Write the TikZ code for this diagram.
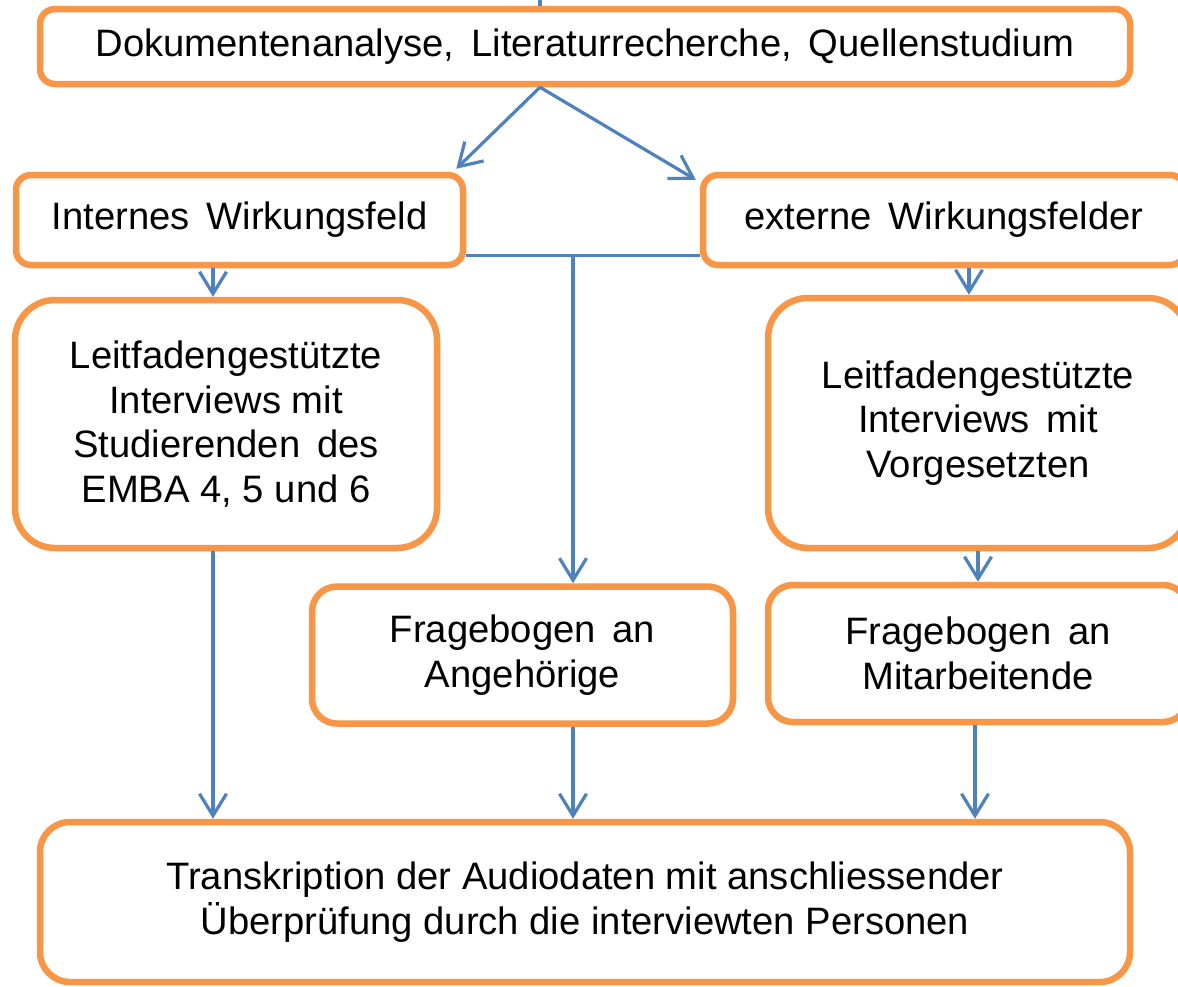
\documentclass[tikz,border=0pt]{standalone}
\usepackage{fontspec}
\setmainfont{Liberation Sans}
\usetikzlibrary{arrows.meta,calc}
\definecolor{boxorange}{HTML}{F79646}
\definecolor{lineblue}{HTML}{4F81BD}
\tikzset{
  box/.style={draw=boxorange, line width=6.5pt, fill=white, align=center, inner sep=0pt,
    font=\fontsize{38.2}{44.5}\selectfont},
  conn/.style={draw=lineblue, line width=3.2pt},
  arr/.style={conn, -{Straight Barb[length=22pt,width=27pt]}}
}
\begin{document}
\begin{tikzpicture}[x=1pt,y=-1pt]
\clip (0,0) rectangle (1178,986);
\fill[white] (0,0) rectangle (1178,986);
% boxes
\node[box, minimum width=1090pt, minimum height=75pt, rounded corners=15pt] (top) at (585,46.5)
  {Dokumentenanalyse,\, Literaturrecherche,\, Quellenstudium};
\node[box, minimum width=447pt, minimum height=90pt, rounded corners=15pt] (intern) at (239.5,220)
  {Internes\, Wirkungsfeld};
\node[box, minimum width=482pt, minimum height=90pt, rounded corners=15pt] (extern) at (944,220)
  {externe\, Wirkungsfelder};
\node[box, minimum width=422pt, minimum height=248pt, rounded corners=40pt] (lleft) at (226,424)
  {Leitfadengestützte\\Interviews mit\\Studierenden\, des\\EMBA 4, 5 und 6};
\node[box, minimum width=420pt, minimum height=250pt, rounded corners=40pt] (lright) at (978,423)
  {Leitfadengestützte\\Interviews\, mit\\Vorgesetzten};
\node[box, minimum width=421pt, minimum height=137pt, rounded corners=25pt] (fang) at (522.5,655)
  {Fragebogen\, an\\Angehörige};
\node[box, minimum width=420pt, minimum height=137pt, rounded corners=25pt] (fmit) at (978,653.5)
  {Fragebogen\, an\\Mitarbeitende};
\node[box, minimum width=1090pt, minimum height=160pt, rounded corners=30pt] (trans) at (585,902)
  {Transkription der Audiodaten mit anschliessender\\Überprüfung durch die interviewten Personen};
% helper coordinates
\coordinate (tk) at (540,-5);
\coordinate (xA) at (213,0);
\coordinate (xB) at (573,0);
\coordinate (xC) at (969,0);
\coordinate (xD) at (978,0);
\coordinate (xE) at (975,0);
\coordinate (apex) at (top.south -| tk);
% connectors
\draw[conn] (tk) -- (top.north -| tk);
\draw[arr] (apex) -- ($(intern.north east)+(-10,-3)$);
\draw[arr] (apex) -- ($(extern.north west)+(-4,8)$);
\coordinate (hl) at ($(intern.south east)+(0,-13)$);
\coordinate (hr) at ($(extern.south west)+(0,-13)$);
\draw[conn] (hl) -- (hr);
\draw[arr] (hl -| xB) -- (fang.north -| xB);
\draw[arr] (intern.south -| xA) -- (lleft.north -| xA);
\draw[arr] (lleft.south -| xA) -- (trans.north -| xA);
\draw[arr] (extern.south -| xC) -- (lright.north -| xC);
\draw[arr] (lright.south -| xD) -- (fmit.north -| xD);
\draw[arr] (fang.south -| xB) -- (trans.north -| xB);
\draw[arr] (fmit.south -| xE) -- (trans.north -| xE);
\end{tikzpicture}
\end{document}
